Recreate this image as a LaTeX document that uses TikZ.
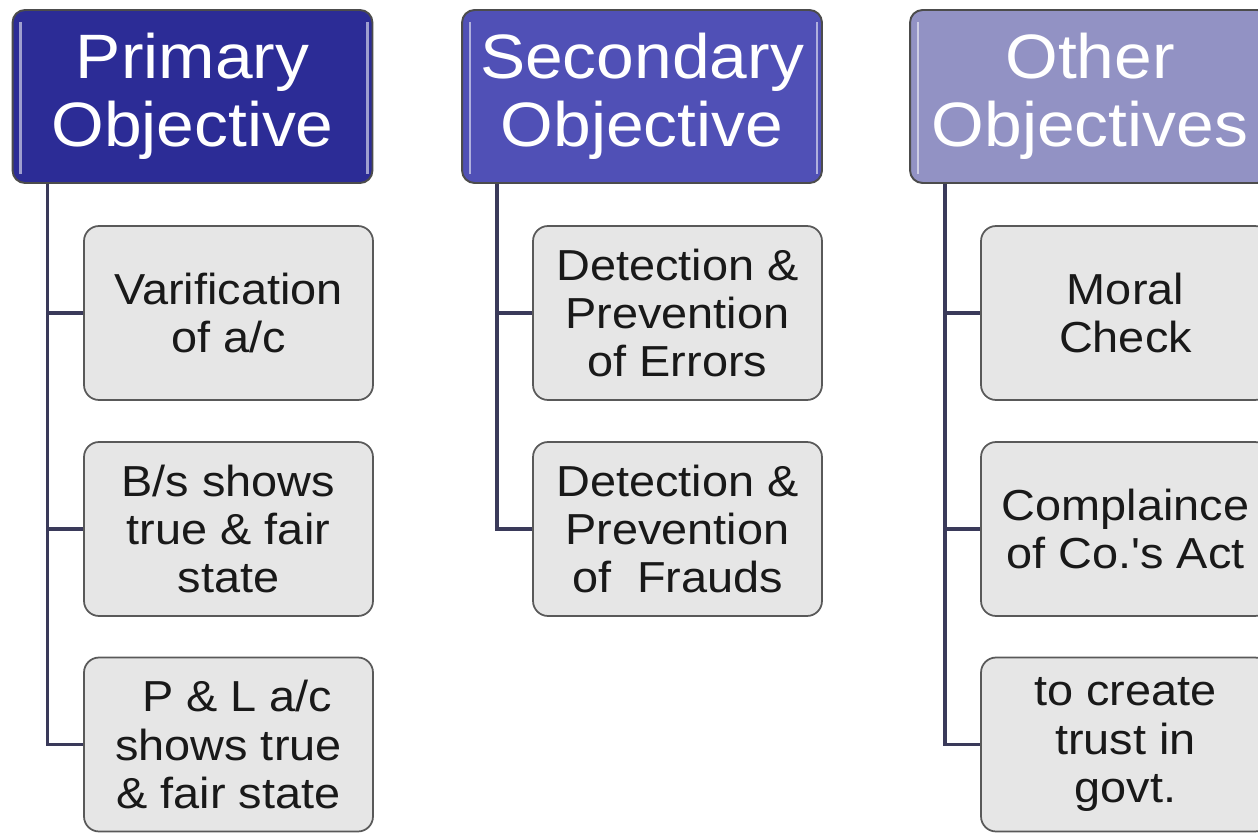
\documentclass[tikz,border=0pt]{standalone}
\usepackage{fontspec}
\setmainfont{Liberation Sans}[FakeStretch=1.08, Ligatures=TeXOff]
\definecolor{primcol}{RGB}{44,44,150}
\definecolor{seccol}{RGB}{80,80,182}
\definecolor{othcol}{RGB}{146,146,196}
\definecolor{boxcol}{RGB}{230,230,230}
\definecolor{linecol}{RGB}{58,58,90}
\tikzset{
  head/.style={draw=black!70, line width=1.1pt, rounded corners=0.25cm,
    minimum width=7.2cm, minimum height=3.46cm, align=center, text=white,
    font=\fontsize{35.7}{38.5}\selectfont},
  item/.style={draw=black!65, fill=boxcol, line width=1pt, rounded corners=0.3cm,
    minimum width=5.78cm, minimum height=3.48cm, align=center, text=black!90,
    font=\fontsize{24.7}{27.5}\selectfont},
  link/.style={draw=linecol, line width=2.2pt},
  shine/.style={white, opacity=0.55, line width=1.4pt}
}
\begin{document}
\begin{tikzpicture}[x=0.02cm, y=-0.02cm]
    \useasboundingbox (0,0) rectangle (1258,832);
    \clip (0,0) rectangle (1258,832);
    \fill[white] (0,0) rectangle (1258,832);
    % headers
    \node[head, fill=primcol] (h1) at (192.5,96.5) {Primary\\Objective};
    \node[head, fill=seccol] (h2) at (642,96.5) {Secondary\\Objective};
    \node[head, fill=othcol] (h3) at (1090,96.5) {Other\\Objectives};
    \foreach \h in {h1,h2,h3} {
        \draw[shine] ([xshift=0.18cm,yshift=-0.26cm]\h.north west) -- ([xshift=0.18cm,yshift=0.2cm]\h.south west);
        \draw[shine] ([xshift=-0.12cm,yshift=-0.26cm]\h.north east) -- ([xshift=-0.12cm,yshift=0.2cm]\h.south east);
    }
    % primary
    \node[item] (p1) at (228.5,313) {Varification\\of a/c};
    \node[item] (p2) at (228.5,529) {B/s shows\\true \& fair\\state};
    \node[item] (p3) at (228.5,744.5) {\hspace{0.4em}P \& L a/c\\shows true\\\& fair state};
    % secondary
    \node[item] (s1) at (677.5,313) {Detection \&\\Prevention\\of Errors};
    \node[item] (s2) at (677.5,529) {Detection \&\\Prevention\\of\ \ Frauds};
    % other
    \node[item] (o1) at (1125.5,313) {Moral\\Check};
    \node[item] (o2) at (1125.5,529) {Complaince\\of Co.'s Act};
    \node[item] (o3) at (1125.5,744.5) {to create\\trust in\\govt.};
    % connectors
    \foreach \h/\a in {h1/p1,h1/p2,h1/p3,h2/s1,h2/s2,h3/o1,h3/o2,h3/o3}
        \draw[link] ([xshift=0.72cm]\h.south west) |- (\a.west);
\end{tikzpicture}
\end{document}
